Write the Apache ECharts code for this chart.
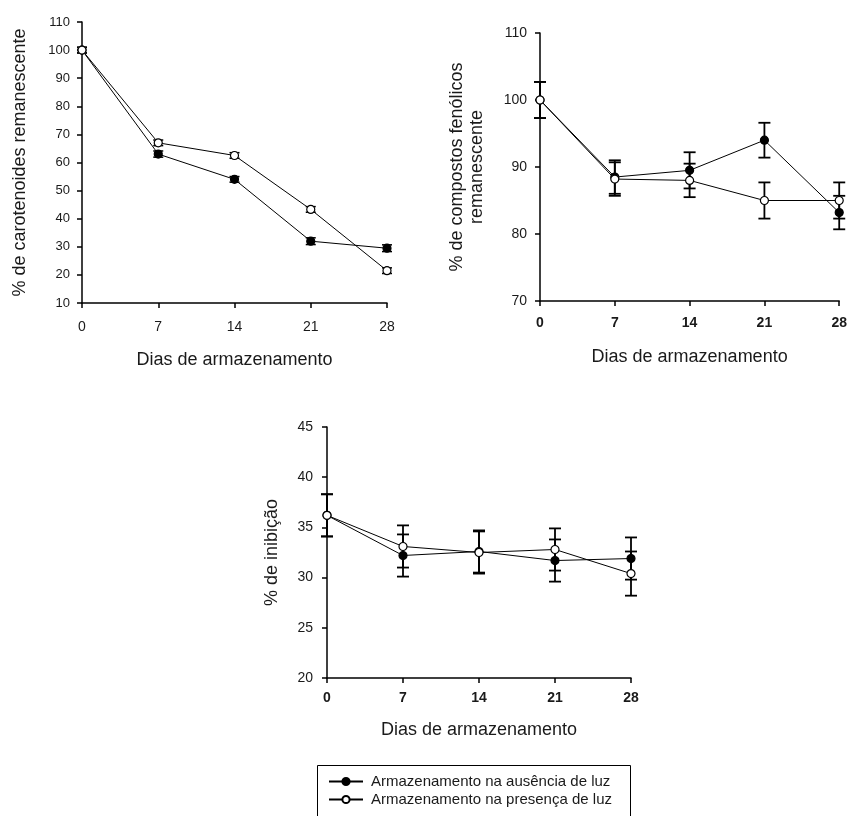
<!DOCTYPE html>
<html><head><meta charset="utf-8">
<script src="https://cdn.jsdelivr.net/npm/echarts@6/dist/echarts.min.js"></script>
<style>html,body{margin:0;padding:0;background:#fff}#c{width:850px;height:816px}</style>
</head><body><div id="c"></div>
<script>
var days = [0, 7, 14, 21, 28];
var nameDark = 'Armazenamento na ausência de luz';
var nameLight = 'Armazenamento na presença de luz';
var xTitle = 'Dias de armazenamento';
// Chart 1 – carotenoides
var carotDark = [100, 63, 54, 32, 29.5];
var carotDarkErr = [1, 1.1, 1, 1.2, 1.2];
var carotLight = [100, 67, 62.5, 43.3, 21.5];
var carotLightErr = [1, 1, 1, 1, 1];
// Chart 2 – compostos fenólicos
var fenDark = [100, 88.5, 89.5, 94, 83.2];
var fenDarkErr = [2.7, 2.5, 2.7, 2.6, 2.5];
var fenLight = [100, 88.2, 88, 85, 85];
var fenLightErr = [2.7, 2.5, 2.5, 2.7, 2.7];
// Chart 3 – % inibição
var inhDark = [36.2, 32.2, 32.6, 31.7, 31.9];
var inhDarkErr = [2.1, 2.1, 2.1, 2.1, 2.1];
var inhLight = [36.2, 33.1, 32.5, 32.8, 30.4];
var inhLightErr = [2.1, 2.1, 2.1, 2.1, 2.2];

var TXT = '#1a1a1a';
var FONT = 'Liberation Sans, Arial, sans-serif';

function pairs(vals) { return days.map(function (d, i) { return [d, vals[i]]; }); }
function errData(vals, errs) { return days.map(function (d, i) { return [d, vals[i], errs[i]]; }); }

function errSeries(idx, vals, errs, cap, w) {
  return {
    type: 'custom', xAxisIndex: idx, yAxisIndex: idx, z: 1, clip: false, silent: true,
    data: errData(vals, errs),
    renderItem: function (params, api) {
      var x = api.value(0), y = api.value(1), e = api.value(2);
      var top = api.coord([x, y + e]), bot = api.coord([x, y - e]);
      var st = { stroke: '#000', lineWidth: w };
      return { type: 'group', children: [
        { type: 'line', shape: { x1: top[0], y1: top[1], x2: bot[0], y2: bot[1] }, style: st },
        { type: 'line', shape: { x1: top[0] - cap, y1: top[1], x2: top[0] + cap, y2: top[1] }, style: st },
        { type: 'line', shape: { x1: bot[0] - cap, y1: bot[1], x2: bot[0] + cap, y2: bot[1] }, style: st }
      ] };
    }
  };
}
function lineSeries(idx, name, vals, filled) {
  return {
    type: 'line', name: name, xAxisIndex: idx, yAxisIndex: idx, z: 3,
    data: pairs(vals), symbol: 'circle', symbolSize: 8, showSymbol: true,
    lineStyle: { color: '#000', width: 1 },
    itemStyle: { color: filled ? '#000' : '#fff', borderColor: '#000', borderWidth: 1.2 },
    emphasis: { disabled: true }
  };
}
function xAx(idx, labelSize, margin, nameGap, bold) {
  return {
    type: 'value', gridIndex: idx, min: 0, max: 28, interval: 7,
    name: xTitle, nameLocation: 'middle', nameGap: nameGap,
    nameTextStyle: { fontSize: 18, color: TXT, fontFamily: FONT },
    axisLine: { lineStyle: { color: '#000', width: 1.5 } },
    axisTick: { show: true, length: 5, lineStyle: { color: '#000', width: 1.5 } },
    axisLabel: { fontSize: labelSize, color: TXT, fontFamily: FONT, margin: margin, fontWeight: bold ? 'bold' : 'normal' },
    splitLine: { show: false }
  };
}
function yAx(idx, min, max, interval, name, labelSize, margin, nameGap) {
  return {
    type: 'value', gridIndex: idx, min: min, max: max, interval: interval,
    name: name, nameLocation: 'middle', nameGap: nameGap, nameRotate: 90,
    nameTextStyle: { fontSize: 18, color: TXT, fontFamily: FONT, lineHeight: 20, align: 'center' },
    axisLine: { show: true, lineStyle: { color: '#000', width: 1.5 } },
    axisTick: { show: true, length: 5, lineStyle: { color: '#000', width: 1.5 } },
    axisLabel: { fontSize: labelSize, color: TXT, fontFamily: FONT, margin: margin },
    splitLine: { show: false }
  };
}

var chart = echarts.init(document.getElementById('c'), null, { renderer: 'canvas' });
chart.setOption({
  animation: false,
  backgroundColor: '#fff',
  textStyle: { fontFamily: FONT },
  grid: [
    { left: 82, top: 22, width: 305, height: 281 },
    { left: 540, top: 33, width: 302, height: 268 },
    { left: 327, top: 427, width: 304, height: 251 }
  ],
  xAxis: [xAx(0, 14, 17, 48, false), xAx(1, 14, 15, 47, true), xAx(2, 14, 13, 43, true)],
  yAxis: [
    yAx(0, 10, 110, 10, '% de carotenoides remanescente', 13, 12, 52),
    yAx(1, 70, 110, 10, '% de compostos fenólicos\nremanescente', 14, 13, 53),
    yAx(2, 20, 45, 5, '% de inibição', 14, 14, 45)
  ],
  graphic: [{
    type: 'rect', left: 315, top: 763, z: 10, silent: true,
    shape: { width: 313, height: 70 },
    style: { fill: 'none', stroke: '#000', lineWidth: 1 }
  }],
  legend: {
    data: [nameDark, nameLight],
    orient: 'vertical', left: 315, top: 764,
    padding: [10, 13, 2, 13], itemGap: 3,
    itemWidth: 34, itemHeight: 9,
    textStyle: { fontSize: 15, color: TXT, fontFamily: FONT, lineHeight: 12, padding: [0, 0, 0, 3] },
    selectedMode: false
  },
  series: [
    errSeries(0, carotDark, carotDarkErr, 5, 1.5),
    errSeries(0, carotLight, carotLightErr, 5, 1.5),
    lineSeries(0, nameDark, carotDark, true),
    lineSeries(0, nameLight, carotLight, false),
    errSeries(1, fenDark, fenDarkErr, 6, 1.8),
    errSeries(1, fenLight, fenLightErr, 6, 1.8),
    lineSeries(1, nameDark, fenDark, true),
    lineSeries(1, nameLight, fenLight, false),
    errSeries(2, inhDark, inhDarkErr, 6, 1.8),
    errSeries(2, inhLight, inhLightErr, 6, 1.8),
    lineSeries(2, nameDark, inhDark, true),
    lineSeries(2, nameLight, inhLight, false)
  ]
});
</script></body></html>
